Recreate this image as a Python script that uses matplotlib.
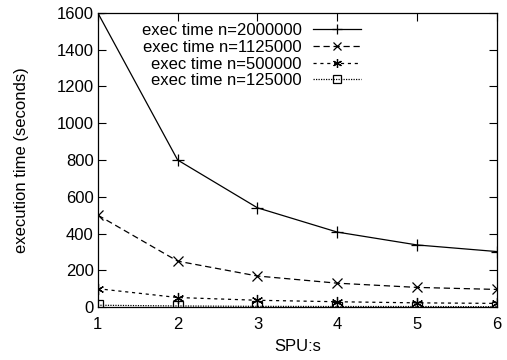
import matplotlib
matplotlib.use('Agg')
import matplotlib.pyplot as plt

plt.rcParams['font.family'] = ['Liberation Sans', 'DejaVu Sans']

spus = [1, 2, 3, 4, 5, 6]
t_2000000 = [1600, 800, 540, 408, 338, 302]
t_1125000 = [500, 250, 169, 130, 107, 96]
t_500000 = [100, 52, 37, 29, 23, 20]
t_125000 = [10, 6, 4, 3, 3, 2]
labels = ['exec time n=2000000', 'exec time n=1125000',
          'exec time n=500000', 'exec time n=125000']

fig = plt.figure(figsize=(5.07, 3.6), dpi=100)
ax = fig.add_axes([0.193, 0.147, 0.787, 0.817])

fs = 12
lw = 0.9
ax.plot(spus, t_2000000, color='black', lw=lw, ls='-', marker='+', ms=9, mew=0.9, label=labels[0])
ax.plot(spus, t_1125000, color='black', lw=lw, ls=(0, (5, 3)), marker='x', ms=7, mew=0.9, label=labels[1])
ax.plot(spus, t_500000, color='black', lw=lw, ls=(0, (2.5, 3)), marker=(6, 2, 0), ms=8, mew=0.9, label=labels[2])
ax.plot(spus, t_125000, color='black', lw=lw, ls=(0, (1, 1)), marker='s', ms=7, mew=0.9,
        mfc='none', label=labels[3])

ax.set_xlim(1, 6)
ax.set_ylim(0, 1600)
ax.set_xticks(spus)
ax.set_yticks(range(0, 1601, 200))
ax.tick_params(direction='in', top=True, right=True, length=6, labelsize=fs)
ax.tick_params(axis='x', pad=7)
ax.tick_params(axis='y', pad=3)
for s in ax.spines.values():
    s.set_linewidth(0.9)

ax.set_xlabel('SPU:s', fontsize=fs, labelpad=5)
ax.set_ylabel('execution time (seconds)', fontsize=fs, labelpad=20)

leg = ax.legend(loc='upper right', bbox_to_anchor=(0.66, 0.965), frameon=False,
                markerfirst=False, fontsize=fs, handlelength=2.9, labelspacing=0.1,
                handletextpad=0.66, borderpad=0, borderaxespad=0, markerscale=0.8)

fig.savefig('out.png', dpi=100)
